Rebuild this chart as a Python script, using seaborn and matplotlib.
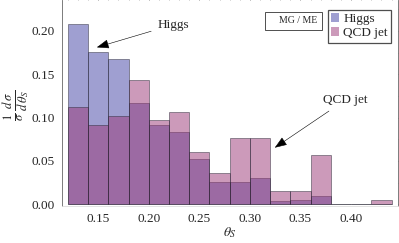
import numpy as np
import pandas as pd
import matplotlib
matplotlib.use("Agg")
import matplotlib.pyplot as plt
import seaborn as sns
from matplotlib.patches import Patch
from matplotlib.ticker import MultipleLocator

# ==========================
# Data
# ==========================
bin_edges = [0.12, 0.14, 0.16, 0.18, 0.20, 0.22, 0.24, 0.26, 0.28,
             0.30, 0.32, 0.34, 0.36, 0.38, 0.40, 0.42, 0.44]
higgs = [0.208, 0.1756, 0.167, 0.1165, 0.0916, 0.0836, 0.0523, 0.0255,
         0.0263, 0.0306, 0.0034, 0.0046, 0.010, 0.0, 0.0, 0.0]
qcd = [0.1123, 0.0913, 0.102, 0.143, 0.097, 0.1065, 0.0607, 0.0359,
       0.0764, 0.0764, 0.0149, 0.0149, 0.0565, 0.0, 0.0, 0.0054]
x_ticks = [0.15, 0.20, 0.25, 0.30, 0.35, 0.40]
y_ticks = [0.00, 0.05, 0.10, 0.15, 0.20]

df = pd.DataFrame({"left": bin_edges[:-1], "higgs": higgs, "qcd": qcd})

higgs_col = (65/255, 65/255, 165/255)
qcd_col = (155/255, 55/255, 119/255)
edge_col = (0.15, 0.15, 0.2, 0.55)

sns.set_style("white")
plt.rcParams["font.family"] = ["Liberation Serif", "DejaVu Serif"]
plt.rcParams["mathtext.fontset"] = "stix"

fig = plt.figure(figsize=(3.99, 2.43), dpi=100)
ax = fig.add_axes([0.155, 0.152, 0.843, 0.846])

# ============================================================
# Histograms
# ============================================================
sns.histplot(data=df, x="left", weights="higgs", bins=bin_edges,
             color=higgs_col, alpha=0.5, edgecolor=edge_col,
             linewidth=0.6, ax=ax)
sns.histplot(data=df, x="left", weights="qcd", bins=bin_edges,
             color=qcd_col, alpha=0.5, edgecolor=edge_col,
             linewidth=0.6, ax=ax)

ax.set_xlim(0.1141, 0.4466)
ax.set_ylim(-0.002, 0.235)

ax.set_xticks(x_ticks)
ax.set_xticklabels(["%.2f" % v for v in x_ticks])
ax.set_yticks(y_ticks)
ax.set_yticklabels(["%.2f" % v for v in y_ticks])
ax.xaxis.set_minor_locator(MultipleLocator(0.01))
ax.yaxis.set_minor_locator(MultipleLocator(0.025))
ax.tick_params(axis="both", which="major", labelsize=9.5, length=3,
               width=0.5, color="#555555", direction="out", pad=2,
               top=True, right=True)
ax.tick_params(axis="both", which="minor", length=1.8, width=0.4,
               color="#777777", direction="out", top=True, right=True)
for s in ["left", "right", "top", "bottom"]:
    ax.spines[s].set_linewidth(0.6)
    ax.spines[s].set_color("#666666")
ax.spines["top"].set_visible(False)
ax.spines["bottom"].set_color("#dddddd")

ax.set_xlabel(r"$\theta_S$", fontsize=10, labelpad=0)
ax.set_ylabel(r"$\frac{1}{\sigma}\,\frac{d\,\sigma}{d\,\theta_S}$",
              fontsize=13)
ax.yaxis.set_label_coords(-0.088, 0.49)

# ============================================================
# Annotations
# ============================================================
arrow = dict(arrowstyle="-|>,head_length=0.8,head_width=0.3",
             color="black", lw=0.4, shrinkA=2, shrinkB=0)
ax.annotate("Higgs", xy=(0.1487, 0.181), xytext=(0.2083, 0.207),
            fontsize=9.5, va="center", ha="left", arrowprops=arrow)
ax.annotate("QCD jet", xy=(0.3246, 0.0653), xytext=(0.372, 0.120),
            fontsize=9.5, va="center", ha="left", arrowprops=arrow)

# ============================================================
# Legend
# ============================================================
ax.text(0.3665, 0.2115, "    MG / ME", fontsize=7, ha="right", va="center",
        bbox=dict(boxstyle="square,pad=0.45", facecolor="white",
                  edgecolor="#333333", linewidth=0.6))
handles = [Patch(facecolor=higgs_col, alpha=0.5, edgecolor="none", label="Higgs"),
           Patch(facecolor=qcd_col, alpha=0.5, edgecolor="none", label="QCD jet")]
leg = ax.legend(handles=handles, loc="upper right", bbox_to_anchor=(0.979, 0.954),
                fontsize=9.5, frameon=True, fancybox=False, handlelength=0.6,
                handleheight=0.6, handletextpad=0.3, borderpad=0.25,
                labelspacing=0.15, borderaxespad=0)
leg.get_frame().set_edgecolor("#222222")
leg.get_frame().set_linewidth(0.9)

fig.savefig("out.png", dpi=100)
